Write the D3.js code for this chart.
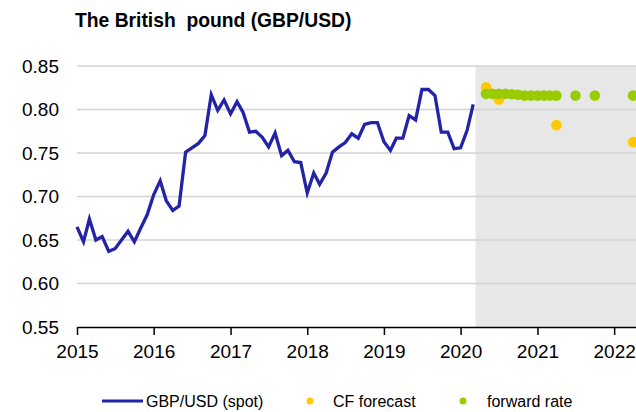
<!DOCTYPE html>
<html>
<head>
<meta charset="utf-8">
<script src="https://cdn.jsdelivr.net/npm/d3@7"></script>
<style>
  body { margin: 0; background: #fff; }
  text { font-family: "Liberation Sans", Arial, sans-serif; fill: #000; }
</style>
</head>
<body>
<div id="chart"></div>
<script>
// Monthly spot rate, Jan 2015 .. Mar 2020
const spotStart = [2015, 0];
const spotValues = [
  0.665, 0.648, 0.674, 0.650, 0.654, 0.637, 0.640, 0.650, 0.660, 0.648, 0.664, 0.679,
  0.702, 0.718, 0.695, 0.684, 0.689, 0.751, 0.756, 0.761, 0.770, 0.817, 0.799, 0.811,
  0.795, 0.809, 0.797, 0.774, 0.775, 0.768, 0.757, 0.773, 0.747, 0.753, 0.740, 0.739,
  0.704, 0.727, 0.714, 0.727, 0.751, 0.757, 0.762, 0.772, 0.767, 0.783, 0.785, 0.785,
  0.763, 0.753, 0.767, 0.767, 0.793, 0.788, 0.823, 0.823, 0.816, 0.774, 0.774, 0.755,
  0.756, 0.776, 0.806
];

const cfDates = ["2020-05", "2020-07", "2021-04", "2022-04"];
const cfValues = [0.8255, 0.8115, 0.782, 0.7625];

const fwdDates = ["2020-05", "2020-06", "2020-07", "2020-08", "2020-09", "2020-10",
  "2020-11", "2020-12", "2021-01", "2021-02", "2021-03", "2021-04",
  "2021-07", "2021-10", "2022-04"];
const fwdValues = [0.818, 0.818, 0.818, 0.818, 0.8175, 0.817,
  0.816, 0.816, 0.816, 0.816, 0.816, 0.816,
  0.816, 0.816, 0.816];

const yTicks = [0.55, 0.60, 0.65, 0.70, 0.75, 0.80, 0.85];
const xTickYears = [2015, 2016, 2017, 2018, 2019, 2020, 2021, 2022];
const forecastStart = "2020-03-12";

const parseMonth = d3.timeParse("%Y-%m");
const spot = spotValues.map((v, i) => ({ date: new Date(spotStart[0], spotStart[1] + i, 1), value: v }));
const cf = cfDates.map((d, i) => ({ date: parseMonth(d), value: cfValues[i] }));
const fwd = fwdDates.map((d, i) => ({ date: parseMonth(d), value: fwdValues[i] }));

const width = 636, height = 412;
const margin = { top: 66, right: 0, bottom: 85, left: 77 };

const svg = d3.select("#chart").append("svg")
  .attr("width", width)
  .attr("height", height);

const x = d3.scaleTime()
  .domain([new Date(2015, 0, 1), new Date(2022, 3, 15)])
  .range([margin.left, width - margin.right]);

const y = d3.scaleLinear()
  .domain([0.55, 0.85])
  .range([height - margin.bottom, margin.top]);

// Title
svg.append("text")
  .attr("x", 75).attr("y", 27)
  .style("font-weight", "bold")
  .style("font-size", "19.3px")
  .style("white-space", "pre")
  .text("The British  pound (GBP/USD)");

// Forecast shading
svg.append("rect")
  .attr("x", x(new Date(forecastStart)))
  .attr("y", y(0.85))
  .attr("width", x.range()[1] - x(new Date(forecastStart)))
  .attr("height", y(0.55) - y(0.85))
  .attr("fill", "#e7e7e7");

// Gridlines
svg.append("g")
  .selectAll("line")
  .data(yTicks.filter(t => t > 0.55))
  .enter().append("line")
  .attr("x1", x.range()[0]).attr("x2", x.range()[1])
  .attr("y1", d => y(d)).attr("y2", d => y(d))
  .attr("stroke", "#d4d4d4")
  .attr("stroke-width", 1.5);

// Y labels
svg.append("g")
  .selectAll("text")
  .data(yTicks)
  .enter().append("text")
  .attr("x", 59)
  .attr("y", d => y(d))
  .attr("dy", "0.35em")
  .attr("text-anchor", "end")
  .style("font-size", "19px")
  .text(d => d.toFixed(2));

// X axis
const xAxis = svg.append("g")
  .attr("transform", `translate(0,${y(0.55)})`)
  .call(d3.axisBottom(x)
    .tickValues(xTickYears.map(yr => new Date(yr, 0, 1)))
    .tickFormat(d3.timeFormat("%Y"))
    .tickSize(8)
    .tickSizeOuter(0)
    .tickPadding(10));
xAxis.select(".domain").attr("stroke", "#000").attr("stroke-width", 1.5);
xAxis.selectAll(".tick line").attr("stroke", "#000").attr("stroke-width", 1.5);
xAxis.selectAll(".tick text")
  .style("font-size", "19px")
  .style("font-family", "'Liberation Sans', Arial, sans-serif")
  .attr("fill", "#000");

// Spot line
const line = d3.line()
  .x(d => x(d.date))
  .y(d => y(d.value));

svg.append("path")
  .datum(spot)
  .attr("d", line)
  .attr("fill", "none")
  .attr("stroke", "#2323a8")
  .attr("stroke-width", 3.3)
  .attr("stroke-linejoin", "miter");

// CF forecast dots
svg.append("g")
  .selectAll("circle")
  .data(cf)
  .enter().append("circle")
  .attr("cx", d => x(d.date))
  .attr("cy", d => y(d.value))
  .attr("r", 5.3)
  .attr("fill", "#ffc800");

// Forward rate dots
svg.append("g")
  .selectAll("circle")
  .data(fwd)
  .enter().append("circle")
  .attr("cx", d => x(d.date))
  .attr("cy", d => y(d.value))
  .attr("r", 5.3)
  .attr("fill", "#99cc00");

// Legend
const legendY = 401;
const legend = svg.append("g").style("font-size", "16px");
legend.append("line")
  .attr("x1", 102).attr("x2", 143)
  .attr("y1", legendY).attr("y2", legendY)
  .attr("stroke", "#2323a8").attr("stroke-width", 3);
legend.append("text").attr("x", 146).attr("y", legendY).attr("dy", "0.36em").text("GBP/USD (spot)");
legend.append("circle").attr("cx", 310).attr("cy", legendY).attr("r", 3.5).attr("fill", "#ffc800");
legend.append("text").attr("x", 333).attr("y", legendY).attr("dy", "0.36em").text("CF forecast");
legend.append("circle").attr("cx", 463).attr("cy", legendY).attr("r", 3.5).attr("fill", "#99cc00");
legend.append("text").attr("x", 487).attr("y", legendY).attr("dy", "0.36em").text("forward rate");
</script>
</body>
</html>
